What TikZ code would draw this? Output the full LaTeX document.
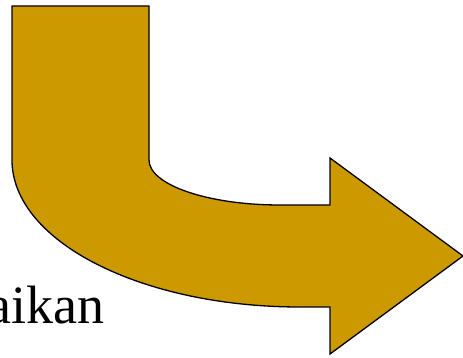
\documentclass[tikz,border=0pt]{standalone}
\usepackage{fontspec}
\setmainfont{Liberation Serif}
\definecolor{arrowgold}{HTML}{CC9900}
\begin{document}
\begin{tikzpicture}[x=1pt,y=1pt,
  bentarrow/.style={fill=arrowgold,draw=black,line width=1.3pt,line join=miter},
  lbl/.style={font=\fontsize{54}{60}\selectfont,inner sep=0pt,anchor=base west}]
\useasboundingbox (0,0) rectangle (463,358);
\draw[bentarrow] (12,352) -- (149,352) -- (149,198)
  arc[start angle=180,end angle=270,x radius=131,y radius=45]
  -- (330,153) -- (330,200) -- (463,102) -- (330,4) -- (330,51) -- (300,51)
  arc[start angle=270,end angle=180,x radius=288,y radius=147]
  -- cycle;
\node[lbl] (txt) at (-13,34) {aikan};
\end{tikzpicture}
\end{document}
